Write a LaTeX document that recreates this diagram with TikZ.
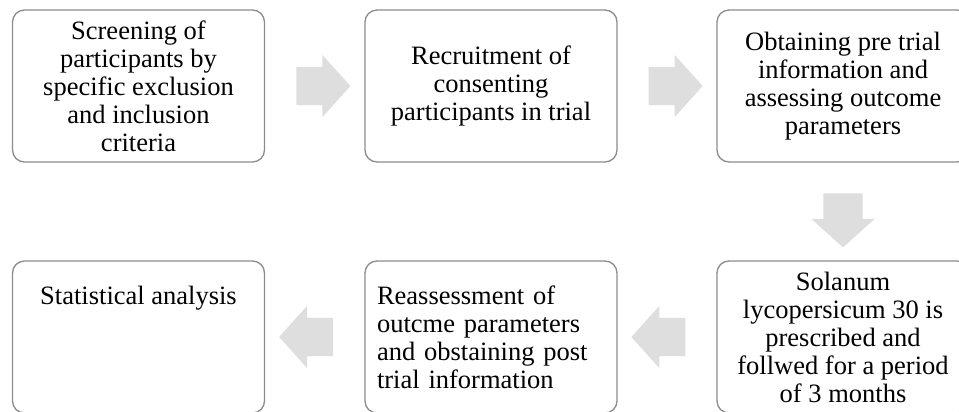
\documentclass[tikz,border=0pt]{standalone}
\usepackage{fontspec}
\setmainfont{Liberation Serif}
\usetikzlibrary{shapes.arrows,calc}
\definecolor{boxgray}{HTML}{8C8C8C}
\definecolor{arrowgray}{HTML}{DEDEDE}
\tikzset{
  stepbox/.style = {draw=boxgray, line width=1.3pt, rounded corners=12pt,
                    fill=white, minimum width=252pt, minimum height=152pt,
                    inner sep=0pt, align=center,
                    font=\fontsize{26.5}{28}\selectfont},
  flowarrow/.style = {single arrow, fill=arrowgray, draw=none,
                      minimum height=54pt, minimum width=0pt,
                      single arrow head extend=12pt, single arrow tip angle=96,
                      inner xsep=0pt, inner ysep=19pt, shape border rotate=#1},
  flowarrow/.default = 0,
  downarrow/.style = {flowarrow=270, inner xsep=19.5pt, inner ysep=0pt}
}
\begin{document}
\begin{tikzpicture}[x=1pt, y=-1pt]
	\def \rowa{86}
	\def \rowb{337}
	\def \cola{138.5}
	\def \colb{491}
	\def \colc{843}
	
	\fill[white] (0,0) rectangle (959,412);
	\useasboundingbox (0,0) rectangle (959,412);
	
	% Top row
	\node[stepbox] (screen) at (\cola,\rowa) {Screening of\\participants by\\specific exclusion\\and inclusion\\criteria};
	\node[stepbox] (recruit) at (\colb,\rowa) {Recruitment of\\consenting\\participants in trial};
	\node[stepbox] (pretrial) at (\colc,\rowa) {Obtaining pre trial\\information and\\assessing outcome\\parameters};
	
	% Bottom row
	\node[stepbox] (solanum) at (\colc,\rowb) {Solanum\\lycopersicum 30 is\\prescribed and\\follwed for a period\\of 3 months};
	\node[stepbox, align=left, text width=228pt] (reassess) at (\colb,\rowb) {Reassessment of\\outcme parameters\\and obstaining post\\trial information};
	\node[stepbox, text height=43pt, text depth=109pt] (stats) at (\cola,\rowb) {Statistical analysis};
	
	% Arrows
	\node[flowarrow] (screen-recruit) at ($(screen.east)!0.5!(recruit.west)$) {};
	\node[flowarrow] (recruit-pretrial) at ($(recruit.east)!0.5!(pretrial.west)$) {};
	\node[downarrow] (pretrial-solanum) at ($(pretrial.south)!0.5!(solanum.north)$) {};
	\node[flowarrow=180] (solanum-reassess) at ($(solanum.west)!0.5!(reassess.east)$) {};
	\node[flowarrow=180] (reassess-stats) at ($(reassess.west)!0.5!(stats.east)$) {};
	
\end{tikzpicture}
\end{document}
